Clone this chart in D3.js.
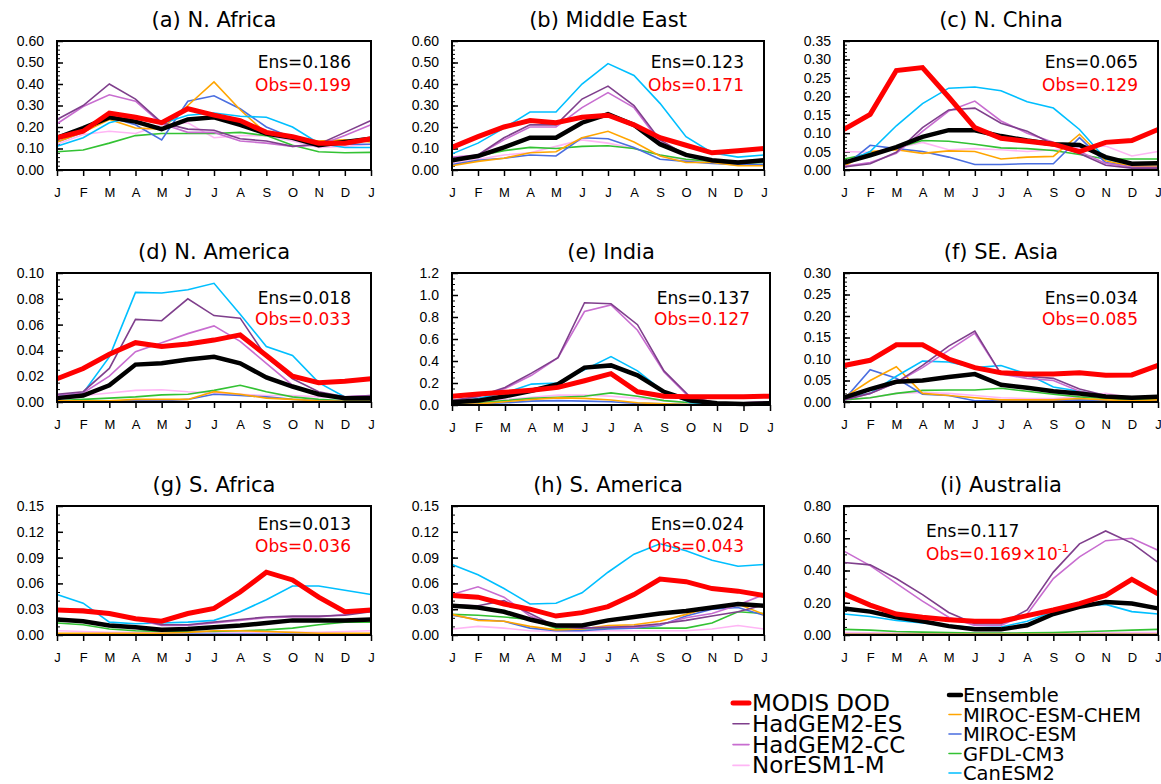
<!DOCTYPE html>
<html>
<head>
<meta charset="utf-8">
<script src="https://cdn.jsdelivr.net/npm/d3@7"></script>
<style>
  body { margin: 0; background: #fff; }
  svg { display: block; font-family: "DejaVu Sans", sans-serif; }
</style>
</head>
<body>
<svg id="chart" width="1161" height="784"></svg>
<script>
// month tick labels, January to the following January
const months = ['J', 'F', 'M', 'A', 'M', 'J', 'J', 'A', 'S', 'O', 'N', 'D', 'J'];

const regions = ['(a) N. Africa', '(b) Middle East', '(c) N. China', '(d) N. America', '(e) India',
  '(f) SE. Asia', '(g) S. Africa', '(h) S. America', '(i) Australia'];
const yMax = [0.6, 0.6, 0.35, 0.1, 1.2, 0.3, 0.15, 0.15, 0.8];
const yStep = [0.1, 0.1, 0.05, 0.02, 0.2, 0.05, 0.03, 0.03, 0.2];
const yMinor = [0.02, 0.02, 0.01, 0.005, 0.05, 0.01, 0.01, 0.01, 0.05];
const yDigits = [2, 2, 2, 2, 1, 2, 2, 2, 2];
const ensText = ['0.186', '0.123', '0.065', '0.018', '0.137', '0.034', '0.013', '0.024', '0.117'];
const obsText = ['0.199', '0.171', '0.129', '0.033', '0.127', '0.085', '0.036', '0.043', '0.169'];

// one row of 13 monthly values per region (a..i)
const modis = [
  [0.15, 0.18, 0.265, 0.245, 0.22, 0.285, 0.255, 0.23, 0.175, 0.155, 0.125, 0.125, 0.145],
  [0.105, 0.155, 0.20, 0.23, 0.22, 0.245, 0.255, 0.21, 0.15, 0.115, 0.08, 0.09, 0.10],
  [0.11, 0.151, 0.27, 0.278, 0.198, 0.115, 0.086, 0.078, 0.07, 0.05, 0.075, 0.08, 0.11],
  [0.018, 0.026, 0.037, 0.046, 0.043, 0.045, 0.048, 0.052, 0.036, 0.020, 0.015, 0.016, 0.018],
  [0.08, 0.10, 0.115, 0.135, 0.16, 0.22, 0.285, 0.12, 0.08, 0.075, 0.075, 0.075, 0.08],
  [0.085, 0.097, 0.133, 0.133, 0.10, 0.08, 0.068, 0.065, 0.065, 0.068, 0.062, 0.063, 0.085],
  [0.029, 0.028, 0.025, 0.019, 0.016, 0.025, 0.031, 0.050, 0.073, 0.064, 0.044, 0.027, 0.029],
  [0.046, 0.044, 0.036, 0.030, 0.022, 0.026, 0.033, 0.047, 0.065, 0.062, 0.054, 0.051, 0.046],
  [0.255, 0.185, 0.13, 0.11, 0.095, 0.085, 0.085, 0.12, 0.155, 0.195, 0.245, 0.345, 0.255]
];
const ensemble = [
  [0.15, 0.195, 0.245, 0.225, 0.19, 0.235, 0.245, 0.21, 0.17, 0.15, 0.115, 0.13, 0.145],
  [0.045, 0.065, 0.105, 0.15, 0.15, 0.22, 0.26, 0.21, 0.12, 0.07, 0.045, 0.035, 0.045],
  [0.02, 0.04, 0.062, 0.09, 0.108, 0.108, 0.092, 0.08, 0.07, 0.068, 0.035, 0.017, 0.018],
  [0.003, 0.005, 0.013, 0.029, 0.030, 0.033, 0.035, 0.030, 0.019, 0.012, 0.006, 0.003, 0.003],
  [0.025, 0.04, 0.08, 0.13, 0.19, 0.34, 0.36, 0.27, 0.12, 0.04, 0.015, 0.01, 0.015],
  [0.01, 0.03, 0.047, 0.05, 0.058, 0.065, 0.04, 0.033, 0.025, 0.02, 0.013, 0.01, 0.012],
  [0.018, 0.016, 0.011, 0.009, 0.006, 0.007, 0.009, 0.011, 0.014, 0.017, 0.017, 0.017, 0.018],
  [0.034, 0.032, 0.027, 0.018, 0.011, 0.011, 0.017, 0.021, 0.025, 0.028, 0.032, 0.036, 0.034],
  [0.165, 0.145, 0.11, 0.085, 0.055, 0.035, 0.035, 0.06, 0.13, 0.175, 0.205, 0.195, 0.165]
];
const hadgemES = [
  [0.235, 0.30, 0.40, 0.33, 0.22, 0.19, 0.185, 0.145, 0.135, 0.11, 0.12, 0.175, 0.23],
  [0.05, 0.07, 0.15, 0.21, 0.21, 0.33, 0.39, 0.30, 0.14, 0.07, 0.04, 0.03, 0.04],
  [0.008, 0.017, 0.048, 0.115, 0.163, 0.168, 0.127, 0.105, 0.07, 0.045, 0.013, 0.005, 0.005],
  [0.006, 0.008, 0.026, 0.064, 0.063, 0.080, 0.067, 0.065, 0.035, 0.018, 0.008, 0.004, 0.005],
  [0.04, 0.08, 0.16, 0.29, 0.43, 0.93, 0.92, 0.73, 0.31, 0.07, 0.02, 0.02, 0.03],
  [0.005, 0.02, 0.045, 0.085, 0.13, 0.165, 0.065, 0.06, 0.055, 0.03, 0.015, 0.01, 0.013],
  [0.030, 0.030, 0.026, 0.019, 0.012, 0.012, 0.015, 0.018, 0.021, 0.022, 0.022, 0.023, 0.027],
  [0.035, 0.034, 0.04, 0.025, 0.01, 0.008, 0.009, 0.01, 0.013, 0.017, 0.022, 0.027, 0.035],
  [0.45, 0.435, 0.35, 0.25, 0.14, 0.07, 0.07, 0.155, 0.39, 0.565, 0.645, 0.57, 0.45]
];
const hadgemCC = [
  [0.215, 0.295, 0.35, 0.32, 0.215, 0.175, 0.175, 0.135, 0.125, 0.11, 0.115, 0.16, 0.21],
  [0.06, 0.07, 0.14, 0.20, 0.20, 0.29, 0.36, 0.29, 0.13, 0.07, 0.045, 0.04, 0.05],
  [0.01, 0.02, 0.045, 0.105, 0.16, 0.187, 0.133, 0.10, 0.075, 0.05, 0.018, 0.008, 0.007],
  [0.005, 0.007, 0.020, 0.039, 0.046, 0.053, 0.059, 0.047, 0.030, 0.013, 0.006, 0.004, 0.005],
  [0.04, 0.075, 0.15, 0.27, 0.43, 0.85, 0.91, 0.68, 0.30, 0.06, 0.02, 0.02, 0.03],
  [0.005, 0.02, 0.045, 0.08, 0.12, 0.16, 0.065, 0.055, 0.05, 0.025, 0.015, 0.01, 0.01],
  [0.028, 0.028, 0.024, 0.018, 0.011, 0.011, 0.014, 0.017, 0.020, 0.021, 0.021, 0.024, 0.028],
  [0.047, 0.056, 0.044, 0.022, 0.01, 0.008, 0.009, 0.009, 0.012, 0.02, 0.025, 0.035, 0.047],
  [0.52, 0.43, 0.32, 0.21, 0.11, 0.06, 0.06, 0.13, 0.35, 0.485, 0.585, 0.60, 0.525]
];
const norESM = [
  [0.12, 0.165, 0.18, 0.17, 0.21, 0.22, 0.15, 0.16, 0.16, 0.135, 0.105, 0.11, 0.12],
  [0.03, 0.05, 0.07, 0.08, 0.11, 0.14, 0.125, 0.10, 0.07, 0.045, 0.04, 0.035, 0.035],
  [0.05, 0.048, 0.06, 0.075, 0.055, 0.058, 0.055, 0.05, 0.055, 0.06, 0.065, 0.038, 0.05],
  [0.004, 0.005, 0.007, 0.009, 0.0095, 0.008, 0.007, 0.006, 0.005, 0.005, 0.004, 0.003, 0.004],
  [0.02, 0.03, 0.05, 0.07, 0.09, 0.09, 0.08, 0.06, 0.04, 0.02, 0.015, 0.01, 0.015],
  [0.005, 0.01, 0.02, 0.022, 0.02, 0.015, 0.01, 0.008, 0.008, 0.012, 0.02, 0.01, 0.008],
  [0.005, 0.004, 0.003, 0.003, 0.003, 0.003, 0.003, 0.003, 0.003, 0.003, 0.003, 0.004, 0.005],
  [0.007, 0.01, 0.008, 0.005, 0.004, 0.004, 0.005, 0.005, 0.005, 0.005, 0.007, 0.011, 0.007],
  [0.015, 0.013, 0.012, 0.012, 0.012, 0.01, 0.01, 0.01, 0.01, 0.012, 0.013, 0.015, 0.015]
];
const mirocChem = [
  [0.13, 0.175, 0.235, 0.195, 0.19, 0.30, 0.41, 0.28, 0.17, 0.15, 0.135, 0.14, 0.13],
  [0.02, 0.04, 0.055, 0.08, 0.085, 0.15, 0.18, 0.13, 0.065, 0.035, 0.035, 0.02, 0.02],
  [0.01, 0.05, 0.055, 0.045, 0.052, 0.05, 0.03, 0.035, 0.037, 0.097, 0.025, 0.01, 0.01],
  [0.001, 0.001, 0.001, 0.002, 0.002, 0.002, 0.008, 0.006, 0.003, 0.002, 0.001, 0.0005, 0.0005],
  [0.005, 0.01, 0.03, 0.05, 0.065, 0.06, 0.045, 0.02, 0.01, 0.005, 0.005, 0.005, 0.005],
  [0.01, 0.05, 0.082, 0.02, 0.015, 0.01, 0.005, 0.005, 0.005, 0.008, 0.005, 0.003, 0.005],
  [0.002, 0.002, 0.002, 0.002, 0.002, 0.003, 0.005, 0.005, 0.004, 0.003, 0.002, 0.002, 0.002],
  [0.024, 0.017, 0.016, 0.01, 0.006, 0.007, 0.011, 0.012, 0.016, 0.024, 0.033, 0.036, 0.024],
  [0.005, 0.005, 0.005, 0.005, 0.005, 0.004, 0.004, 0.004, 0.005, 0.005, 0.005, 0.005, 0.005]
];
const miroc = [
  [0.13, 0.175, 0.245, 0.21, 0.14, 0.32, 0.345, 0.285, 0.20, 0.15, 0.125, 0.12, 0.12],
  [0.025, 0.045, 0.055, 0.07, 0.065, 0.15, 0.145, 0.105, 0.05, 0.04, 0.03, 0.025, 0.025],
  [0.01, 0.067, 0.058, 0.05, 0.035, 0.015, 0.015, 0.017, 0.017, 0.088, 0.02, 0.01, 0.008],
  [0.0005, 0.001, 0.001, 0.001, 0.001, 0.002, 0.006, 0.005, 0.004, 0.002, 0.001, 0.0005, 0.0005],
  [0.005, 0.01, 0.02, 0.035, 0.04, 0.035, 0.03, 0.015, 0.01, 0.005, 0.003, 0.003, 0.005],
  [0.005, 0.075, 0.055, 0.018, 0.015, 0.003, 0.003, 0.003, 0.003, 0.005, 0.003, 0.003, 0.003],
  [0.001, 0.001, 0.001, 0.001, 0.001, 0.001, 0.001, 0.001, 0.001, 0.001, 0.001, 0.001, 0.001],
  [0.023, 0.018, 0.016, 0.008, 0.005, 0.005, 0.007, 0.008, 0.011, 0.022, 0.03, 0.032, 0.023],
  [0.004, 0.004, 0.004, 0.004, 0.004, 0.003, 0.003, 0.003, 0.004, 0.004, 0.004, 0.004, 0.004]
];
const gfdl = [
  [0.085, 0.093, 0.125, 0.16, 0.17, 0.17, 0.17, 0.175, 0.16, 0.115, 0.085, 0.08, 0.082],
  [0.04, 0.065, 0.09, 0.105, 0.10, 0.11, 0.113, 0.10, 0.07, 0.05, 0.04, 0.03, 0.035],
  [0.03, 0.045, 0.06, 0.08, 0.078, 0.07, 0.06, 0.058, 0.053, 0.042, 0.03, 0.03, 0.03],
  [0.001, 0.002, 0.003, 0.004, 0.0055, 0.006, 0.009, 0.013, 0.008, 0.004, 0.002, 0.001, 0.001],
  [0.01, 0.02, 0.04, 0.06, 0.07, 0.08, 0.11, 0.08, 0.04, 0.02, 0.01, 0.01, 0.01],
  [0.005, 0.01, 0.02, 0.027, 0.028, 0.028, 0.032, 0.025, 0.018, 0.012, 0.008, 0.005, 0.005],
  [0.014, 0.012, 0.007, 0.005, 0.004, 0.004, 0.004, 0.005, 0.006, 0.008, 0.012, 0.015, 0.015],
  [0.024, 0.023, 0.021, 0.018, 0.008, 0.007, 0.008, 0.008, 0.008, 0.008, 0.014, 0.027, 0.025],
  [0.035, 0.03, 0.022, 0.018, 0.015, 0.012, 0.012, 0.013, 0.015, 0.02, 0.025, 0.03, 0.035]
];
const canESM = [
  [0.11, 0.15, 0.22, 0.25, 0.215, 0.255, 0.265, 0.25, 0.245, 0.20, 0.125, 0.105, 0.105],
  [0.075, 0.125, 0.195, 0.27, 0.27, 0.40, 0.495, 0.44, 0.31, 0.155, 0.08, 0.06, 0.07],
  [0.02, 0.05, 0.12, 0.18, 0.222, 0.225, 0.215, 0.185, 0.168, 0.11, 0.03, 0.015, 0.02],
  [0.005, 0.007, 0.035, 0.085, 0.0845, 0.087, 0.092, 0.068, 0.043, 0.036, 0.015, 0.004, 0.004],
  [0.02, 0.06, 0.11, 0.19, 0.20, 0.32, 0.44, 0.31, 0.12, 0.02, 0.01, 0.01, 0.01],
  [0.01, 0.02, 0.06, 0.095, 0.093, 0.08, 0.085, 0.065, 0.035, 0.025, 0.013, 0.01, 0.01],
  [0.047, 0.037, 0.015, 0.013, 0.014, 0.015, 0.017, 0.027, 0.041, 0.057, 0.057, 0.052, 0.047],
  [0.082, 0.07, 0.054, 0.036, 0.037, 0.049, 0.073, 0.094, 0.106, 0.098, 0.087, 0.08, 0.082],
  [0.13, 0.115, 0.09, 0.075, 0.06, 0.045, 0.05, 0.085, 0.145, 0.18, 0.19, 0.145, 0.13]
];

// drawing order: thin model lines first, ensemble and observations on top
const series = [
  { name: 'NorESM1-M', values: norESM, color: '#ffb6f5', width: 1.6 },
  { name: 'GFDL-CM3', values: gfdl, color: '#33c233', width: 1.6 },
  { name: 'MIROC-ESM', values: miroc, color: '#4a6ee0', width: 1.6 },
  { name: 'MIROC-ESM-CHEM', values: mirocChem, color: '#ffa500', width: 1.6 },
  { name: 'CanESM2', values: canESM, color: '#00bfff', width: 1.6 },
  { name: 'HadGEM2-CC', values: hadgemCC, color: '#c86dd0', width: 1.6 },
  { name: 'HadGEM2-ES', values: hadgemES, color: '#7f3f8c', width: 1.6 },
  { name: 'Ensemble', values: ensemble, color: '#000000', width: 4.5 },
  { name: 'MODIS DOD', values: modis, color: '#ff0000', width: 5 }
];
const byName = Object.fromEntries(series.map(s => [s.name, s]));

const svg = d3.select('#chart');

const cols = [[57, 371], [452, 764], [844, 1158]];
const rows = [[41, 170], [273, 402], [506, 635]];
// text offsets below the frame top for the Ens / Obs notes, per row
const noteY = [[27, 50], [31, 52], [24, 46]];

regions.forEach((title, i) => {
  const c = i % 3, r = Math.floor(i / 3);
  let [x0, x1] = cols[c];
  let [y0, y1] = rows[r];
  if (i === 4) { x1 = 770; y1 = 405; }   // India panel is a bit larger

  const x = d3.scaleLinear().domain([0, 12]).range([x0, x1]);
  const y = d3.scaleLinear().domain([0, yMax[i]]).range([y1, y0]);
  const g = svg.append('g');

  // y axis, major and minor ticks pointing inward
  const nMaj = Math.round(yMax[i] / yStep[i]);
  const majors = d3.range(nMaj + 1).map(k => k * yStep[i]);
  const nMin = Math.round(yMax[i] / yMinor[i]);
  const minors = d3.range(nMin + 1).map(k => k * yMinor[i]);

  g.append('g')
    .attr('transform', `translate(${x0},0)`)
    .call(d3.axisLeft(y).tickValues(minors).tickSize(-3).tickFormat(''))
    .call(a => a.select('.domain').remove())
    .selectAll('line').attr('stroke-width', 1);

  g.append('g')
    .attr('transform', `translate(${x0},0)`)
    .call(d3.axisLeft(y).tickValues(majors).tickSize(-6).tickPadding(13)
      .tickFormat(d => d.toFixed(yDigits[i])))
    .call(a => a.select('.domain').remove())
    .call(a => a.selectAll('line').attr('stroke-width', 1.5))
    .call(a => a.selectAll('text').attr('font-size', 14).attr('fill', '#000'));

  // x axis, ticks pointing outward
  g.append('g')
    .attr('transform', `translate(0,${y1})`)
    .call(d3.axisBottom(x).tickValues(d3.range(13)).tickSize(6).tickPadding(12)
      .tickFormat(k => months[k]))
    .call(a => a.select('.domain').remove())
    .call(a => a.selectAll('line').attr('stroke-width', 1.5))
    .call(a => a.selectAll('text').attr('font-size', 13).attr('fill', '#000'));

  // lines
  const line = d3.line().x((d, k) => x(k)).y(d => y(d));
  series.forEach(s => {
    g.append('path')
      .datum(s.values[i])
      .attr('d', line)
      .attr('fill', 'none')
      .attr('stroke', s.color)
      .attr('stroke-width', s.width);
  });

  // frame
  g.append('rect')
    .attr('x', x0).attr('y', y0)
    .attr('width', x1 - x0).attr('height', y1 - y0)
    .attr('fill', 'none').attr('stroke', '#000').attr('stroke-width', 2);

  // title
  g.append('text')
    .attr('x', (x0 + x1) / 2).attr('y', y0 - 14)
    .attr('text-anchor', 'middle')
    .attr('font-size', 21)
    .text(title);

  // Ens / Obs notes
  const leftNote = i === 8;
  const nx = leftNote ? 926 : x1 - 20;
  const anchor = leftNote ? 'start' : 'end';
  const [ey, oy] = leftNote ? [31, 54] : noteY[r];
  g.append('text')
    .attr('x', nx).attr('y', y0 + ey)
    .attr('text-anchor', anchor).attr('font-size', 17)
    .text('Ens=' + ensText[i]);
  const obs = g.append('text')
    .attr('x', nx).attr('y', y0 + oy)
    .attr('text-anchor', anchor).attr('font-size', 17)
    .attr('fill', '#ff0000')
    .text('Obs=' + obsText[i]);
  if (leftNote) {
    obs.append('tspan').text('\u00d710');
    obs.append('tspan').attr('dy', -8).attr('font-size', 11).text('-1');
  }
});

// legend
const legLeft = ['MODIS DOD', 'HadGEM2-ES', 'HadGEM2-CC', 'NorESM1-M'];
const legRight = ['Ensemble', 'MIROC-ESM-CHEM', 'MIROC-ESM', 'GFDL-CM3', 'CanESM2'];

const legend = svg.append('g');
legLeft.forEach((name, k) => {
  const s = byName[name];
  const cy = 703 + k * 20.8;
  legend.append('line')
    .attr('x1', 733).attr('x2', 749).attr('y1', cy).attr('y2', cy)
    .attr('stroke', s.color).attr('stroke-width', s.width)
    .attr('stroke-linecap', 'round');
  legend.append('text')
    .attr('x', 752).attr('y', cy + 8)
    .attr('font-size', 23)
    .text(name);
});
legRight.forEach((name, k) => {
  const s = byName[name];
  const cy = 695 + k * 19.5;
  legend.append('line')
    .attr('x1', 949).attr('x2', 961).attr('y1', cy).attr('y2', cy)
    .attr('stroke', s.color).attr('stroke-width', s.width)
    .attr('stroke-linecap', 'round');
  legend.append('text')
    .attr('x', 963).attr('y', cy + 7)
    .attr('font-size', 19.5)
    .text(name);
});
</script>
</body>
</html>
